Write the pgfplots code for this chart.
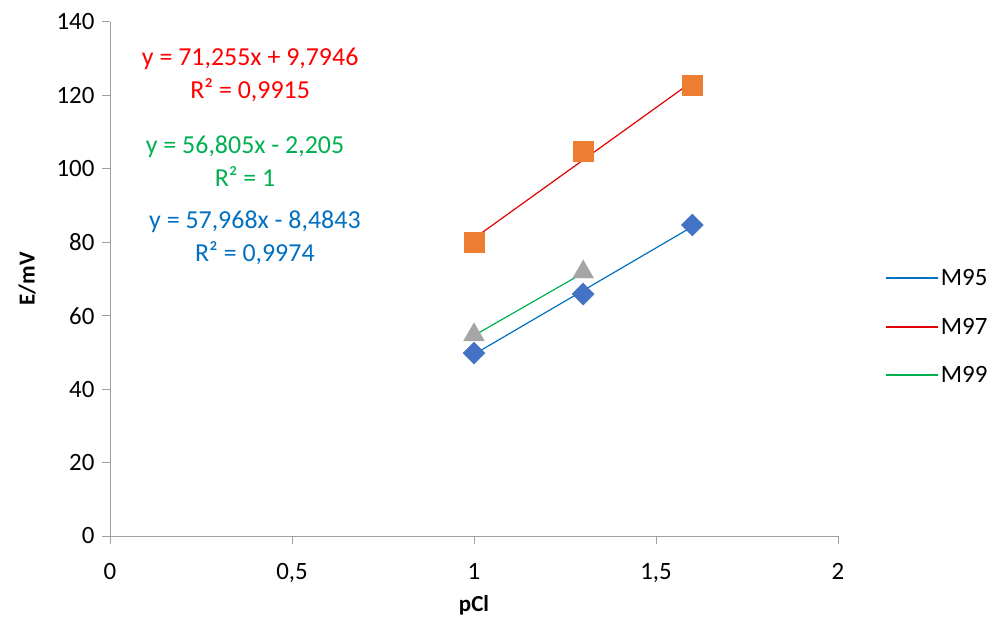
\documentclass[border=0pt]{standalone}
\usepackage{pgfplots}
\pgfplotsset{compat=1.18}
\usepackage{fontspec}
\setmainfont{Carlito}
\definecolor{mblue}{HTML}{4472C4}
\definecolor{morange}{HTML}{ED7D31}
\definecolor{mgrey}{HTML}{A5A5A5}
\definecolor{tblue}{HTML}{0070C0}
\definecolor{tred}{HTML}{E00000}
\definecolor{tgreen}{HTML}{00B050}
\definecolor{axgrey}{HTML}{A0A0A0}
\begin{document}
\begin{tikzpicture}
\begin{axis}[
scale only axis,
width=728bp,
height=514bp,
xmin=0, xmax=2,
ymin=0, ymax=140,
xtick={0,0.5,1,1.5,2},
ytick={0,20,...,140},
axis x line*=bottom,
axis y line*=left,
axis line style={axgrey, line width=1pt},
tick align=outside,
major tick length=8bp,
tick style={axgrey, line width=1pt},
/pgf/number format/use comma,
/pgf/number format/assume math mode=true,
ticklabel style={font=\fontsize{25}{28}\selectfont},
xticklabel style={yshift=-16bp},
yticklabel style={xshift=-4bp},
xlabel={\textbf{pCl}},
ylabel={\textbf{E/mV}},
label style={font=\fontsize{23}{26}\selectfont},
xlabel style={yshift=-6bp},
ylabel style={yshift=14bp},
legend style={draw=none, fill=none, at={(1.06,0.407)}, anchor=west, font=\fontsize{25}{28}\selectfont,
  row sep=27bp, /tikz/every even column/.append style={column sep=4bp}},
legend cell align=left,
legend image code/.code={\draw[#1, line width=2bp] (0bp,0bp) -- (52bp,0bp);},
clip=false,
]
% data points
\addplot[only marks, mark=square*, mark options={rotate=45}, mark size=7.8bp, mblue, forget plot] coordinates {(1,49.8) (1.3,65.9) (1.6,84.7)};
\addplot[only marks, mark=square*, mark size=10bp, morange, forget plot] coordinates {(1,80.1) (1.3,104.9) (1.6,122.8)};
\addplot[only marks, mark=triangle*, mark size=12bp, mgrey, forget plot] coordinates {(1,54.8) (1.3,71.9)};
% trendlines
\addplot[tblue, line width=1.2pt, no marks] coordinates {(1,49.48) (1.6,84.26)};
\addlegendentry{M95}
\addplot[tred, line width=1.2pt, no marks] coordinates {(1,81.05) (1.6,123.80)};
\addlegendentry{M97}
\addplot[tgreen, line width=1.2pt, no marks] coordinates {(1,54.60) (1.3,71.64)};
\addlegendentry{M99}
% equations
\node[red, align=center, font=\fontsize{26}{33}\selectfont] at (axis cs:0.385,125.5) {y = 71,255x + 9,7946\\R² = 0,9915};
\node[tgreen, align=center, font=\fontsize{26}{33}\selectfont] at (axis cs:0.371,102.1) {y = 56,805x - 2,205\\R² = 1};
\node[tblue, align=center, font=\fontsize{26}{33}\selectfont] at (axis cs:0.398,81.1) {y = 57,968x - 8,4843\\R² = 0,9974};
\coordinate (bl) at (rel axis cs:0,0);
\coordinate (tr) at (rel axis cs:1,1);
\end{axis}
\pgfresetboundingbox
\path ([shift={(-110bp,-86bp)}]bl) rectangle ([shift={(158bp,22bp)}]tr);
\end{tikzpicture}
\end{document}
